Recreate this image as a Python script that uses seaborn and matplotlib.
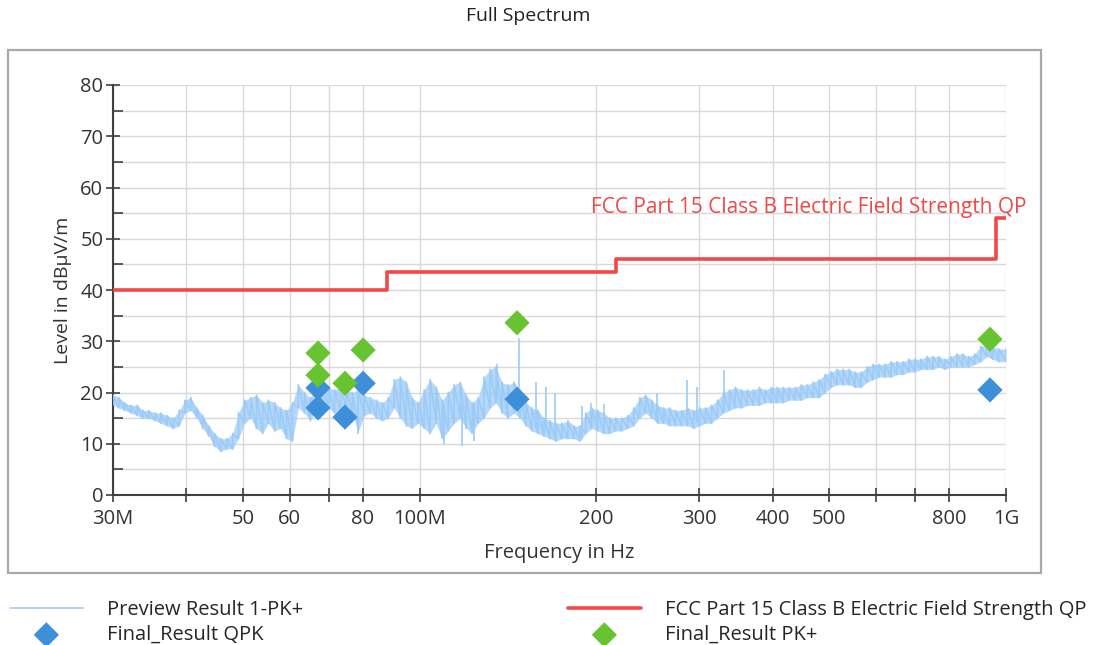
import numpy as np
import pandas as pd
import matplotlib
matplotlib.use("Agg")
from matplotlib import pyplot as plt
from matplotlib.patches import Rectangle
from matplotlib.ticker import NullLocator
import seaborn as sns

scan_freq = [30.0, 30.7, 31.4, 32.2, 33.0, 33.7, 34.5, 35.4, 36.2, 37.1,
             38.0, 38.9, 39.8, 40.7, 41.7, 42.7, 43.7, 44.7, 45.8, 46.9,
             48.0, 49.1, 50.3, 51.5, 52.7, 54.0, 55.2, 56.6, 57.9, 59.3,
             60.7, 62.1, 63.6, 65.1, 66.7, 68.3, 69.9, 71.6, 73.3, 75.0,
             76.8, 78.6, 80.5, 82.4, 84.4, 86.4, 88.4, 90.5, 92.7, 94.9,
             97.1, 99.4, 101.8, 104.2, 106.7, 109.3, 111.9, 114.5, 117.3, 120.0,
             122.9, 125.8, 128.8, 131.9, 135.0, 138.2, 141.5, 144.9, 148.3, 151.8,
             155.4, 159.1, 162.9, 166.8, 170.8, 174.8, 179.0, 183.2, 187.6, 192.0,
             196.6, 201.3, 206.1, 211.0, 216.0, 221.1, 226.4, 231.8, 237.3, 242.9,
             248.7, 254.6, 260.7, 266.9, 273.2, 279.7, 286.4, 293.2, 300.2, 307.3,
             314.6, 322.1, 329.7, 337.6, 345.6, 353.8, 362.2, 370.8, 379.7, 388.7,
             397.9, 407.4, 417.1, 427.0, 437.1, 447.5, 458.2, 469.1, 480.2, 491.6,
             503.3, 515.3, 527.5, 540.1, 552.9, 566.0, 579.5, 593.3, 607.4, 621.8,
             636.6, 651.7, 667.2, 683.1, 699.3, 715.9, 733.0, 750.4, 768.2, 786.5,
             805.2, 824.3, 843.9, 864.0, 884.5, 905.6, 927.1, 949.1, 971.7, 1000.0]
scan_lo = [17.5, 17, 16.5, 16, 15.5, 15, 15, 14.5, 14, 13.5,
           13, 13.5, 16, 16.5, 15, 13, 11.5, 9.5, 8.5, 9,
           9, 11, 14, 15, 13, 12, 14, 12.5, 13, 11,
           10.5, 17, 16, 14.5, 17, 17.5, 17, 16, 16.5, 17,
           16, 12.5, 15.5, 16, 15, 14.5, 15, 17, 15, 13.5,
           13, 14, 13, 12, 14, 11, 12.5, 14, 15, 13,
           12, 14, 15, 17, 18, 16, 15, 16, 15, 13.5,
           12.5, 12, 11.5, 11, 10.5, 11, 11, 11, 10.5, 12,
           13, 12.5, 12, 12, 12.5, 12.5, 13, 13.5, 15, 16,
           15, 14, 14, 13.5, 13.5, 13.5, 13.5, 13, 13.5, 14,
           14, 15, 16, 16.5, 17, 17, 17.5, 17.5, 17.5, 18,
           18, 18, 18, 18.5, 18.5, 18.5, 19, 19, 19, 20,
           21, 21.5, 21.5, 21.5, 21, 21, 22, 22.5, 23, 23,
           23, 23.5, 23.5, 24, 24, 24.5, 24.5, 24.5, 25, 24.5,
           25, 25, 25, 25, 25.5, 26, 27, 26.5, 26, 26]
scan_hi = [19.5, 19, 18, 17.5, 17.5, 16.5, 16.5, 16, 16, 15.5,
           15, 16.5, 18.5, 19, 17, 15.5, 13.5, 12, 11, 11,
           12, 16, 18.5, 19, 19.5, 18, 18.5, 18, 17, 16.5,
           18, 21.5, 20, 19, 21, 21.5, 21, 20.5, 21, 20.5,
           20, 20.5, 19.5, 19, 18.5, 18, 19, 22.5, 23, 22,
           19, 18, 20.5, 22.5, 21, 18.5, 20, 21.5, 22, 19.5,
           18, 19, 23, 24.5, 25, 22, 21.5, 22, 20.5, 18,
           17, 16.5, 15, 14.5, 14, 14, 14.5, 13.5, 13.5, 16,
           17, 16.5, 16, 15, 15, 15, 15.5, 17, 19, 19.5,
           18.5, 17.5, 17, 17, 16.5, 16.5, 17, 16.5, 17, 17,
           17.5, 18.5, 20, 20.5, 21, 20.5, 20.5, 20.5, 21, 20.5,
           21, 21, 21, 21, 21, 21.5, 21.5, 22, 22.5, 23.5,
           24, 24.5, 24.5, 24.5, 24, 24, 25, 25.5, 25.5, 25.5,
           26, 26, 26, 26.5, 26.5, 26.5, 27, 27, 27, 26.5,
           27, 27.5, 27.5, 27, 27.5, 29, 29.5, 29, 28.5, 28.5]

# single narrow lines sticking out of the band
spike_freq = [78.6, 110.0, 118.0, 124.0, 135.5, 147.9, 158.0, 164.0,
              170.0, 189.0, 196.0, 206.0, 254.0, 286.0, 297.0, 330.0]
spike_lo = [12.0, 10.0, 9.5, 10.5, 18.0, 19.0, 13.0, 12.5,
            12.0, 11.0, 13.0, 12.5, 15.0, 14.0, 14.0, 16.0]
spike_hi = [20.0, 18.0, 18.0, 18.0, 25.5, 30.6, 22.0, 21.0,
            20.0, 17.4, 18.0, 17.8, 20.0, 22.4, 21.0, 24.4]

# FCC Part 15 class B limit (QP)
limit_freq = [30, 88, 88, 216, 216, 960, 960, 1000]
limit_level = [40, 40, 43.5, 43.5, 46, 46, 54, 54]

# final measurements
qpk_freq = [67.1, 67.1, 74.6, 80.1, 146.6, 939.0]
qpk_level = [20.9, 17.0, 15.2, 21.8, 18.7, 20.5]
pk_freq = [67.1, 67.1, 74.6, 80.1, 146.6, 939.0]
pk_level = [27.7, 23.4, 21.8, 28.3, 33.6, 30.4]

x_ticks = [30, 40, 50, 60, 70, 80, 100, 200, 300, 400, 500, 600, 700, 800, 1000]
x_labels = ["30M", "", "50", "60", "", "80", "100M", "200", "300", "400", "500", "", "", "800", "1G"]

sns.set_style("white")
plt.rcParams["font.family"] = ["Open Sans", "DejaVu Sans"]

trace_col = "#9ccbf7"
trace = pd.DataFrame({
    "f": np.repeat(scan_freq, 2),
    "level": np.column_stack([scan_lo, scan_hi]).ravel(),
})

fig = plt.figure(figsize=(11.02, 6.45), dpi=100)
ax = fig.add_axes([113 / 1102, 1 - 495 / 645, 893 / 1102, 410 / 645])

ax.fill_between(scan_freq, scan_lo, scan_hi, color=trace_col, lw=0, alpha=0.75, zorder=2)
sns.lineplot(data=trace, x="f", y="level", sort=False, estimator=None,
             color=trace_col, lw=1.2, ax=ax, label="Preview Result 1-PK+", zorder=3)
ax.vlines(spike_freq, spike_lo, spike_hi, color=trace_col, lw=1.2, zorder=3)
sns.lineplot(x=limit_freq, y=limit_level, sort=False, estimator=None,
             color="#f24848", lw=2.6, ax=ax, zorder=4,
             label="FCC Part 15 Class B Electric Field Strength QP")
sns.scatterplot(x=qpk_freq, y=qpk_level, marker="D", s=165, color="#3c8fd8",
                edgecolor="none", ax=ax, zorder=5, label="Final_Result QPK")
sns.scatterplot(x=pk_freq, y=pk_level, marker="D", s=165, color="#67c430",
                edgecolor="none", ax=ax, zorder=6, label="Final_Result PK+")

ax.text(1085, 56.0, "FCC Part 15 Class B Electric Field Strength QP", color="#f04848",
        fontsize=15, ha="right", va="center", clip_on=False)

ax.set_xscale("log")
ax.set_xlim(30, 1000)
ax.set_ylim(0, 80)
ax.set_xticks(x_ticks)
ax.set_xticklabels(x_labels)
ax.xaxis.set_minor_locator(NullLocator())
ax.set_yticks(range(0, 81, 10))
ax.set_yticks(range(5, 80, 10), minor=True)
ax.grid(True, which="both", color="#d9d9d9", lw=1.0, zorder=0)
ax.set_axisbelow(True)

for s in ["top", "right"]:
    ax.spines[s].set_visible(False)
for s in ["left", "bottom"]:
    ax.spines[s].set_color("#404040")
    ax.spines[s].set_linewidth(1.5)

ax.tick_params(axis="x", which="major", bottom=True, direction="inout", length=10, width=1.2,
               color="#404040", labelsize=14.5, labelcolor="#333333", pad=5)
ax.tick_params(axis="y", which="major", left=True, direction="inout", length=10, width=1.2,
               color="#404040", labelsize=14.5, labelcolor="#333333", pad=2)
ax.tick_params(axis="y", which="minor", left=True, direction="in", length=7, width=1.2,
               color="#404040")

ax.set_xlabel("Frequency in Hz", fontsize=14.5, color="#333333", labelpad=10)
ax.set_ylabel("Level in dBµV/m", fontsize=14, color="#333333", labelpad=6)

fig.text(528 / 1102, 1 - 16 / 645, "Full Spectrum", fontsize=14, color="#222222",
         ha="center", va="center")

fig.patches.append(Rectangle((8 / 1102, 1 - 573 / 645), 1033 / 1102, 523 / 645,
                             transform=fig.transFigure, fill=False,
                             edgecolor="#a8a8a8", lw=1.6))

handles, labels = ax.get_legend_handles_labels()
ax.get_legend().remove()
hmap = dict(zip(labels, handles))
left_keys = ["Preview Result 1-PK+", "Final_Result QPK"]
right_keys = ["FCC Part 15 Class B Electric Field Strength QP", "Final_Result PK+"]
for keys, x0 in [(left_keys, -4), (right_keys, 554)]:
    fig.legend([hmap[k] for k in keys], keys, loc="upper left",
               bbox_to_anchor=(x0 / 1102, 1 - 586 / 645), frameon=False, fontsize=14.5,
               handlelength=3.6, handletextpad=1.2, labelspacing=0.25, borderpad=0.2)

fig.savefig("out.png", dpi=100)
